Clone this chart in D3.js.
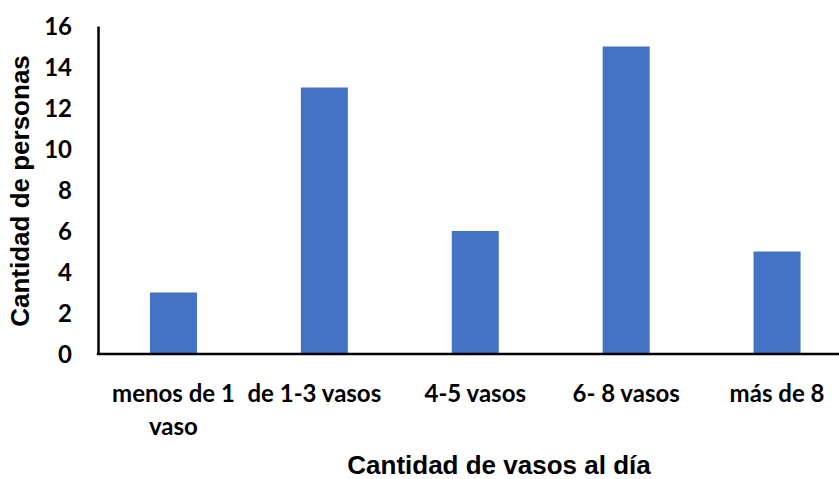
<!DOCTYPE html>
<html lang="es">
  <head>
    <meta charset="utf-8">
    <title>Cantidad de vasos al día</title>
    <script src="https://d3js.org/d3.v7.min.js"></script>
    <style>
      body { margin: 0; background: #fff; }
      .tickLabel, .catLabel { font-family: Lato, "Open Sans", sans-serif; font-weight: 700; font-size: 24px; fill: #000; }
      .axisTitle { font-family: "Liberation Sans", Arial, sans-serif; font-weight: 700; font-size: 26px; fill: #000; }
    </style>
  </head>
  <body>
    <script>
      // categories (wrapped lines as in the original) and values
      var categories = [["menos de 1", "vaso"], ["de 1-3 vasos"], ["4-5 vasos"], ["6- 8 vasos"], ["más de 8"]];
      var values = [3, 13, 6, 15, 5];
      var yTicks = [0, 2, 4, 6, 8, 10, 12, 14, 16];

      var outerWidth = 839,
        outerHeight = 479;

      // plot area, the right side runs past the picture edge like the original
      var margin = { top: 26, left: 98, bottom: 125 };
      var plotRight = 852.5;
      var plotBottom = outerHeight - margin.bottom;

      var svg = d3.select("body")
        .append("svg")
        .attr("width", outerWidth)
        .attr("height", outerHeight);

      var xScale = d3.scaleBand()
        .domain(d3.range(categories.length))
        .range([margin.left, plotRight])
        .paddingInner(0.6885)
        .paddingOuter(0.34425);

      var yScale = d3.scaleLinear()
        .domain([0, 16])
        .range([plotBottom, margin.top]);

      // bars
      svg.selectAll("rect.bar")
        .data(values)
        .enter()
        .append("rect")
        .attr("class", "bar")
        .attr("x", function(d, i) { return xScale(i); })
        .attr("y", function(d) { return yScale(d); })
        .attr("width", xScale.bandwidth())
        .attr("height", function(d) { return yScale(0) - yScale(d); })
        .attr("fill", "#4472C4");

      // y axis: line only, labels at the left
      var yAxis = d3.axisLeft(yScale)
        .tickValues(yTicks)
        .tickSize(0)
        .tickPadding(26);

      var yG = svg.append("g")
        .attr("transform", "translate(" + margin.left + ",0)")
        .call(yAxis);
      yG.select(".domain").attr("stroke", "#000").attr("stroke-width", 2.5);
      yG.selectAll("text")
        .attr("class", "tickLabel")
        .attr("dy", "0.35em")
        .attr("font-size", null)
        .attr("font-family", null);

      // x axis line
      svg.append("line")
        .attr("x1", margin.left - 1.2)
        .attr("x2", outerWidth)
        .attr("y1", yScale(0))
        .attr("y2", yScale(0))
        .attr("stroke", "#000")
        .attr("stroke-width", 2.5);

      // category labels
      var catNudge = [0, -10, 0, 0, 0];
      var cats = svg.selectAll("text.catLabel")
        .data(categories)
        .enter()
        .append("text")
        .attr("class", "catLabel")
        .attr("text-anchor", "middle")
        .attr("x", function(d, i) { return xScale(i) + xScale.bandwidth() / 2 + catNudge[i]; })
        .attr("y", 402);

      cats.selectAll("tspan")
        .data(function(d) { return d; })
        .enter()
        .append("tspan")
        .attr("x", function() { return d3.select(this.parentNode).attr("x"); })
        .attr("dy", function(d, j) { return j === 0 ? 0 : 33; })
        .text(function(d) { return d; });

      // axis titles
      svg.append("text")
        .attr("class", "axisTitle")
        .attr("text-anchor", "middle")
        .attr("x", 499)
        .attr("y", 474)
        .text("Cantidad de vasos al día");

      svg.append("text")
        .attr("class", "axisTitle")
        .attr("text-anchor", "middle")
        .attr("transform", "translate(29,191) rotate(-90)")
        .text("Cantidad de personas");
    </script>
  </body>
</html>
